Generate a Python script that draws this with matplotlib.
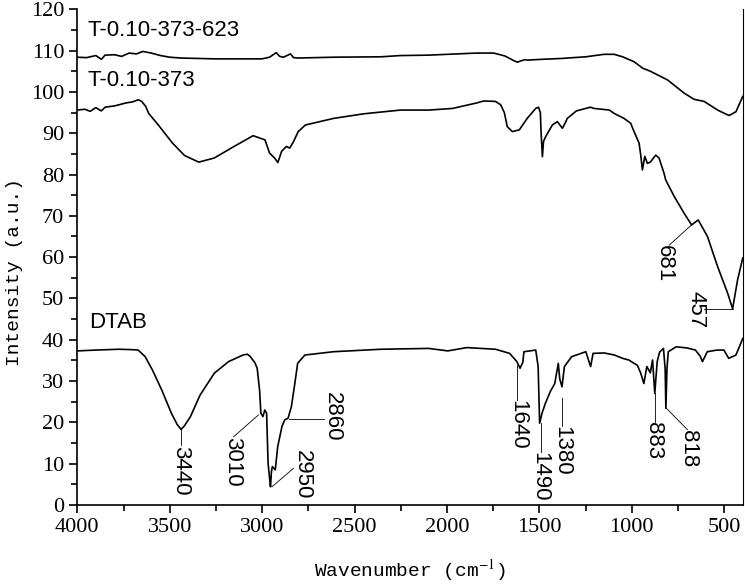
import matplotlib
matplotlib.use("Agg")
import matplotlib.pyplot as plt
from matplotlib.ticker import MultipleLocator

# ---------------- data ----------------
wn_623 = [4000, 3950, 3900, 3870, 3850, 3800, 3760, 3720, 3680, 3646, 3600, 3550, 3500,
          3439, 3259, 3001, 2960, 2924, 2905, 2885, 2847, 2830, 2808, 2615, 2357, 2252,
          2099, 1842, 1747, 1687, 1640, 1620, 1580, 1566, 1481, 1378, 1349, 1249, 1150,
          1096, 1050, 988, 940, 916, 900, 807, 717, 663, 609, 536, 490, 473, 437, 400]
int_623 = [108.4, 108.3, 108.8, 107.9, 108.9, 109.0, 108.6, 109.4, 109.2, 109.8, 109.4, 108.8, 108.4,
           108.2, 108.0, 108.0, 108.4, 109.5, 108.6, 108.4, 109.2, 108.3, 108.2, 108.4, 108.5, 108.8,
           108.9, 109.4, 109.4, 108.7, 107.6, 107.2, 107.8, 107.7, 107.9, 108.1, 108.2, 108.5, 109.1,
           109.1, 108.5, 107.3, 105.7, 105.3, 105.0, 102.9, 99.7, 98.2, 97.7, 95.6, 94.6, 94.3, 95.2, 98.9]

wn_373 = [4000, 3960, 3930, 3900, 3870, 3850, 3800, 3773, 3740, 3700, 3670, 3652, 3630, 3614,
          3562, 3485, 3420, 3343, 3259, 3152, 3049, 3011, 2985, 2960, 2933, 2915, 2895, 2869,
          2851, 2830, 2805, 2766, 2612, 2450, 2252, 2098, 1970, 1842, 1801, 1738, 1710, 1690,
          1674, 1647, 1609, 1566, 1520, 1505, 1495, 1491, 1484, 1478, 1466, 1430, 1403, 1376,
          1366, 1349, 1300, 1224, 1205, 1121, 1096, 1043, 1006, 992, 961, 952, 943, 930, 916,
          900, 871, 853, 826, 817, 771, 717, 677, 641, 591, 536, 482, 455, 428, 400]
int_373 = [95.6, 95.8, 95.3, 96.2, 95.4, 96.3, 96.6, 96.9, 97.3, 97.6, 98.1, 97.7, 96.5, 94.8,
           92.0, 87.6, 84.6, 83.0, 84.0, 86.8, 89.4, 88.8, 88.4, 85.2, 84.0, 82.9, 85.6, 86.8,
           86.4, 88.0, 90.4, 92.0, 93.6, 94.7, 95.6, 95.6, 96.0, 97.3, 97.8, 97.7, 96.9, 95.0,
           91.6, 90.4, 90.8, 93.6, 96.0, 96.3, 95.0, 90.0, 84.3, 88.0, 89.2, 92.0, 92.8, 91.2,
           92.0, 93.6, 95.4, 96.3, 96.0, 95.6, 94.8, 93.6, 92.4, 90.8, 87.6, 84.7, 81.1, 84.4, 82.7,
           83.0, 84.7, 84.0, 80.3, 78.7, 74.7, 70.6, 67.8, 69.0, 65.0, 57.7, 51.3, 47.5, 54.5, 59.8]

wn_dtab = [4000, 3900, 3775, 3700, 3671, 3633, 3594, 3543, 3491, 3460, 3439, 3420, 3388, 3336,
           3259, 3182, 3104, 3080, 3066, 3040, 3027, 3014, 3007, 2996, 2986, 2976, 2968, 2960,
           2955, 2950, 2945, 2929, 2916, 2893, 2878, 2860, 2842, 2826, 2808, 2769, 2615, 2357,
           2099, 1996, 1893, 1738, 1661, 1622, 1605, 1590, 1584, 1520, 1507, 1499, 1486, 1468,
           1442, 1417, 1398, 1390, 1378, 1365, 1326, 1249, 1223, 1210, 1150, 1094, 1050, 1017,
           970, 952, 935, 919, 900, 888, 876, 863, 850, 829, 820, 816, 810, 803, 760, 700, 656,
           630, 618, 592, 540, 502, 476, 437, 400]
int_dtab = [37.3, 37.5, 37.7, 37.6, 37.5, 35.9, 32.7, 27.8, 22.2, 19.5, 18.3, 19.2, 21.4, 26.6,
            31.9, 34.7, 36.3, 36.5, 36.0, 34.5, 33.1, 27.8, 22.2, 21.4, 23.0, 22.2, 10.1, 6.5,
            4.4, 8.0, 9.3, 8.5, 14.1, 19.0, 20.6, 21.0, 23.8, 28.6, 34.3, 36.3, 37.1, 37.7,
            37.9, 37.3, 38.1, 37.7, 36.7, 34.7, 33.1, 34.5, 37.1, 37.5, 33.5, 19.8, 22.2, 24.6,
            27.4, 29.4, 34.3, 30.5, 28.6, 33.5, 35.9, 37.1, 33.5, 36.7, 36.8, 36.3, 35.5, 35.1,
            33.8, 31.9, 29.4, 33.5, 32.0, 35.1, 27.0, 34.7, 37.0, 37.9, 33.0, 23.4, 33.0, 37.1, 38.3, 38.0, 37.5,
            36.0, 34.7, 37.1, 37.5, 37.5, 35.5, 36.3, 40.3]

sample_names = ["T-0.10-373-623", "T-0.10-373", "DTAB"]
peak_labels = ["3440", "3010", "2950", "2860", "1640", "1490", "1380", "883", "818", "681", "457"]
peak_x = [3440, 3020, 2947, 2857, 1619, 1493, 1376, 876, 813, 677, 455]
peak_y = [18.3, 21.8, 4.4, 20.7, 33.9, 19.8, 25.8, 27.0, 23.4, 67.8, 47.5]
x_ticks = [4000, 3500, 3000, 2500, 2000, 1500, 1000, 500]
y_ticks = [0, 10, 20, 30, 40, 50, 60, 70, 80, 90, 100, 110, 120]

# ---------------- layout ----------------
name_pos = [(3945, 114.9), (3945, 102.8), (3935, 44.1)]
# (line end x, line end y, text x, text y, vertical alignment)
label_layout = [
    (3440, 14.5, 3440, 14.3, "top"),
    (3155, 16.5, 3160, 16.5, "top"),
    (2830, 8.9, 2781, 7.3, "center"),
    (2667, 20.7, 2622, 21.4, "center"),
    (1619, 25.4, 1617, 25.4, "top"),
    (1493, 12.9, 1497, 12.9, "top"),
    (1376, 19.0, 1380, 19.0, "top"),
    (876, 20.2, 883, 20.2, "top"),
    (699, 18.2, 696, 18.2, "top"),
    (798, 62.9, 822, 62.9, "top"),
    (609, 47.5, 654, 47.2, "center"),
]

plt.rcParams["mathtext.fontset"] = "stix"
fig = plt.figure(figsize=(7.45, 5.88), dpi=100)
ax = fig.add_axes([0.1038, 0.1412, 0.997 - 0.1038, 0.9842 - 0.1412])

for wn, val in [(wn_623, int_623), (wn_373, int_373), (wn_dtab, int_dtab)]:
    ax.plot(wn, val, color="black", lw=1.2)

for name, (tx, ty) in zip(sample_names, name_pos):
    ax.text(tx, ty, name, family="Liberation Sans", fontsize=16, ha="left", va="center")

for lab, px, py, (lx, ly, tx, ty, va) in zip(peak_labels, peak_x, peak_y, label_layout):
    ax.plot([px, lx], [py, ly], color="black", lw=0.6)
    ax.text(tx, ty, lab, rotation=-90, family="Liberation Sans", fontsize=16,
            ha="center", va=va)

ax.set_xlim(4000, 400)
ax.set_ylim(0, 120)
ax.set_xticks(x_ticks)
ax.set_yticks(y_ticks)
ax.xaxis.set_minor_locator(MultipleLocator(250))
ax.yaxis.set_minor_locator(MultipleLocator(5))
ax.tick_params(which="major", direction="out", length=6, width=1.2,
               labelsize=16, top=False, right=False)
ax.tick_params(which="minor", direction="out", length=4, width=1.2,
               top=False, right=False)
for lbl in ax.get_xticklabels() + ax.get_yticklabels():
    lbl.set_family("Liberation Serif")
ax.spines["top"].set_visible(False)
for s in ["left", "bottom"]:
    ax.spines[s].set_linewidth(1.2)
ax.spines["right"].set_linewidth(0.8)

ax.set_xlabel("Wavenumber (cm$^{-1}$)", family="Liberation Mono", fontsize=14)
ax.xaxis.set_label_coords(0.5, -0.105)
ax.set_ylabel("Intensity (a.u.)", family="Liberation Mono", fontsize=14)
ax.yaxis.set_label_coords(-0.082, 0.47)

fig.savefig("out.png", dpi=100)
